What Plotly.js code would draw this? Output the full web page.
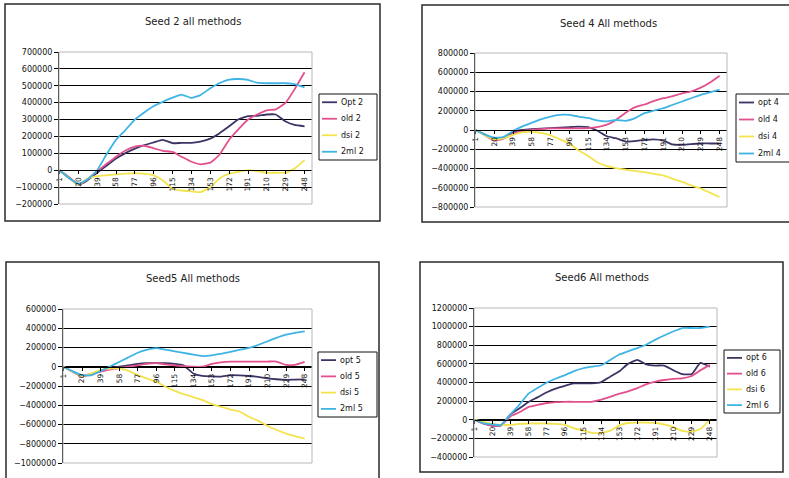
<!DOCTYPE html>
<html>
<head>
<meta charset="utf-8">
<script src="https://cdn.plot.ly/plotly-3.0.1.min.js"></script>
<style>
  html, body { margin: 0; padding: 0; background: #ffffff; }
  #chart { width: 789px; height: 478px; }
</style>
</head>
<body>
<div id="chart"></div>
<script>
// Step index (x) at which each series value is sampled
const steps = [1, 10, 20, 29, 39, 48, 58, 67, 77, 86, 96, 105, 115, 124, 134, 143, 153, 162, 172, 181, 191, 200, 210, 219, 229, 238, 248];

// Category labels shown on the x axis
const tickSteps = [1, 20, 39, 58, 77, 96, 115, 134, 153, 172, 191, 210, 229, 248];
const tickLabels = ['1', '20', '39', '58', '77', '96', '115', '134', '153', '172', '191', '210', '229', '248'];

// Chart titles and series names
const titles = ['Seed 2 all methods', 'Seed 4 All methods', 'Seed5 All methods', 'Seed6 All methods'];
const names2 = ['Opt 2', 'old 2', 'dsi 2', '2ml 2'];
const names4 = ['opt 4', 'old 4', 'dsi 4', '2ml 4'];
const names5 = ['opt 5', 'old 5', 'dsi 5', '2ml 5'];
const names6 = ['opt 6', 'old 6', 'dsi 6', '2ml 6'];

// Seed 2
const seed2Opt = [0, -40000, -85000, -60000, -15000, 25000, 70000, 100000, 128000, 148000, 165000, 180000, 160000, 162000, 162000, 170000, 187000, 218000, 260000, 300000, 320000, 322000, 330000, 330000, 288000, 268000, 260000];
const seed2Old = [0, -40000, -85000, -55000, -5000, 35000, 80000, 115000, 140000, 145000, 130000, 115000, 108000, 80000, 50000, 35000, 45000, 90000, 180000, 240000, 300000, 330000, 355000, 360000, 400000, 480000, 580000];
const seed2Dsi = [0, -45000, -85000, -50000, -35000, -30000, -25000, -20000, -18000, -20000, -30000, -60000, -110000, -120000, -125000, -130000, -100000, -50000, -20000, -10000, 0, -5000, -15000, -15000, -15000, 10000, 60000];
const seed2Ml = [0, -45000, -80000, -55000, 0, 90000, 180000, 235000, 300000, 340000, 380000, 405000, 430000, 448000, 428000, 445000, 485000, 515000, 537000, 540000, 535000, 518000, 515000, 515000, 515000, 510000, 490000];

// Seed 4
const seed4Opt = [0, -45000, -95000, -80000, -20000, 0, 10000, 15000, 20000, 25000, 30000, 35000, 30000, -5000, -65000, -85000, -120000, -115000, -104000, -97000, -110000, -150000, -155000, -146000, -140000, -140000, -140000];
const seed4Old = [0, -50000, -110000, -90000, -40000, -10000, 0, 10000, 17000, 17000, 17000, 17000, 20000, 30000, 55000, 105000, 180000, 235000, 265000, 300000, 330000, 350000, 380000, 400000, 440000, 490000, 563000];
const seed4Dsi = [0, -50000, -100000, -85000, -50000, -25000, -20000, -30000, -55000, -95000, -139000, -210000, -270000, -335000, -375000, -395000, -412000, -425000, -438000, -455000, -472000, -505000, -539000, -575000, -609000, -650000, -696000];
const seed4Ml = [0, -45000, -80000, -75000, -10000, 35000, 75000, 110000, 140000, 157000, 157000, 140000, 125000, 100000, 90000, 104000, 95000, 120000, 175000, 200000, 226000, 260000, 296000, 330000, 365000, 390000, 420000];

// Seed 5
const seed5Opt = [0, -50000, -95000, -75000, -45000, -20000, 0, 15000, 30000, 37000, 37000, 37000, 30000, 15000, -70000, -95000, -100000, -103000, -88000, -90000, -96000, -105000, -120000, -130000, -137000, -133000, -131000];
const seed5Old = [0, -50000, -100000, -80000, -50000, -30000, -15000, 0, 15000, 30000, 37000, 25000, 15000, 5000, 0, 0, 30000, 45000, 54000, 54000, 54000, 54000, 54000, 54000, 19000, 19000, 50000];
const seed5Dsi = [0, -50000, -96000, -70000, -35000, -20000, -16000, -40000, -85000, -120000, -155000, -205000, -250000, -285000, -315000, -345000, -388000, -415000, -445000, -465000, -520000, -560000, -615000, -655000, -695000, -720000, -746000];
const seed5Ml = [0, -45000, -87000, -90000, -45000, 0, 50000, 95000, 145000, 175000, 193000, 178000, 160000, 145000, 125000, 110000, 118000, 135000, 155000, 175000, 195000, 225000, 265000, 300000, 333000, 352000, 367000];

// Seed 6
const seed6Opt = [0, -40000, -65000, -60000, 60000, 120000, 193000, 240000, 295000, 335000, 365000, 390000, 391000, 391000, 405000, 460000, 520000, 600000, 643000, 595000, 582000, 582000, 530000, 490000, 490000, 610000, 570000];
const seed6Old = [0, -40000, -65000, -60000, 40000, 80000, 139000, 160000, 180000, 190000, 193000, 193000, 193000, 193000, 215000, 245000, 280000, 305000, 340000, 380000, 410000, 427000, 440000, 445000, 470000, 530000, 589000];
const seed6Dsi = [0, -20000, -45000, -55000, -55000, -45000, -40000, -40000, -40000, -45000, -55000, -90000, -115000, -140000, -140000, -120000, -60000, -35000, -30000, -30000, -35000, -50000, -80000, -120000, -130000, -100000, 0];
const seed6Ml = [0, -35000, -50000, -55000, 60000, 160000, 283000, 340000, 400000, 440000, 480000, 520000, 553000, 570000, 585000, 640000, 700000, 735000, 770000, 805000, 860000, 905000, 950000, 985000, 985000, 985000, 1000000];

// Y axis ranges and tick step for each chart
const yRanges = [[-200000, 700000], [-800000, 800000], [-1000000, 600000], [-400000, 1200000]];
const yDticks = [100000, 200000, 200000, 200000];

// ---------- drawing ----------
const W = 789, H = 478;
const px = v => v / W;
const py = v => 1 - v / H;

const seriesColors = ['#3d3464', '#e2508e', '#f3e34e', '#3fb4e4'];
const font = 'DejaVu Sans, Verdana, sans-serif';

// pixel boxes: plot area [left, top, right, bottom], outer frame, key box, title centre
const panels = [
  { plot: [59, 52, 312, 204], frame: [5, 4, 380, 221], key: [319, 94, 377, 160], title: [193, 22],
    names: names2, data: [seed2Opt, seed2Old, seed2Dsi, seed2Ml] },
  { plot: [475, 53, 727, 207], frame: [422, 5, 800, 222], key: [736, 94, 800, 162], title: [608, 23],
    names: names4, data: [seed4Opt, seed4Old, seed4Dsi, seed4Ml] },
  { plot: [63, 309, 312, 463], frame: [6, 262, 379, 490], key: [318, 352, 377, 417], title: [193, 278],
    names: names5, data: [seed5Opt, seed5Old, seed5Dsi, seed5Ml] },
  { plot: [474, 308, 717, 457], frame: [420, 262, 783, 472], key: [724, 350, 780, 413], title: [602, 277],
    names: names6, data: [seed6Opt, seed6Old, seed6Dsi, seed6Ml] }
];

const traces = [];
const layout = {
  width: W, height: H,
  margin: { l: 0, r: 0, t: 0, b: 0 },
  paper_bgcolor: '#ffffff',
  plot_bgcolor: '#ffffff',
  font: { family: font, size: 8, color: '#222222' },
  showlegend: false,
  shapes: [],
  annotations: []
};

panels.forEach((p, k) => {
  const n = k + 1;
  const xName = 'x' + (n === 1 ? '' : n);
  const yName = 'y' + (n === 1 ? '' : n);
  const [l, t, r, b] = p.plot;
  const yDom = [py(b), py(t)];
  const yr = yRanges[k];
  const zeroPos = yDom[0] + (0 - yr[0]) / (yr[1] - yr[0]) * (yDom[1] - yDom[0]);

  p.data.forEach((vals, s) => {
    traces.push({
      type: 'scatter', mode: 'lines',
      x: steps, y: vals,
      name: p.names[s],
      xaxis: xName, yaxis: yName,
      line: { color: seriesColors[s], width: 1.8, shape: 'spline', smoothing: 0.4 },
      hoverinfo: 'x+y+name'
    });
  });

  layout['xaxis' + (n === 1 ? '' : n)] = {
    domain: [px(l), px(r)],
    range: [0.5, 255.5],
    anchor: 'free',
    position: zeroPos,
    tickmode: 'array', tickvals: tickSteps, ticktext: tickLabels,
    tickangle: -90,
    tickfont: { family: font, size: 7.5, color: '#111111' },
    ticks: 'outside', ticklen: 3, tickcolor: '#000000',
    showline: true, linecolor: '#000000', linewidth: 1,
    showgrid: false, zeroline: false, fixedrange: true
  };
  layout['yaxis' + (n === 1 ? '' : n)] = {
    domain: yDom,
    range: yr,
    anchor: xName,
    dtick: yDticks[k], tick0: 0,
    tickformat: 'd',
    tickfont: { family: font, size: 8, color: '#111111' },
    ticks: 'outside', ticklen: 4, tickcolor: '#000000',
    showline: true, linecolor: '#000000', linewidth: 1,
    showgrid: true, gridcolor: '#000000', gridwidth: 1,
    zeroline: true, zerolinecolor: '#000000', zerolinewidth: 1,
    fixedrange: true
  };

  // light grey plot-area border
  layout.shapes.push({
    type: 'rect', xref: 'paper', yref: 'paper', layer: 'above',
    x0: px(l), x1: px(r), y0: yDom[0], y1: yDom[1],
    line: { color: '#b8b8b8', width: 1 }
  });
  // outer chart frame
  const [fl, ft, fr, fb] = p.frame;
  layout.shapes.push({
    type: 'rect', xref: 'paper', yref: 'paper', layer: 'below',
    x0: px(fl), x1: px(fr), y0: py(fb), y1: py(ft),
    line: { color: '#2a2a2a', width: 1.5 }
  });
  // chart title
  layout.annotations.push({
    xref: 'paper', yref: 'paper',
    x: px(p.title[0]), y: py(p.title[1]),
    xanchor: 'center', yanchor: 'middle',
    text: titles[k], showarrow: false,
    font: { family: font, size: 10, color: '#222222' }
  });

  // series key: framed box with a short line sample and name per series
  const [kl, kt, kr, kb] = p.key;
  layout.shapes.push({
    type: 'rect', xref: 'paper', yref: 'paper', layer: 'above',
    x0: px(kl), x1: px(kr), y0: py(kb), y1: py(kt),
    fillcolor: '#ffffff',
    line: { color: '#111111', width: 1 }
  });
  const rowGap = (kb - kt) / p.names.length;
  p.names.forEach((nm, s) => {
    const ry = kt + rowGap * (s + 0.5);
    layout.shapes.push({
      type: 'line', xref: 'paper', yref: 'paper', layer: 'above',
      x0: px(kl + 3), x1: px(kl + 18), y0: py(ry), y1: py(ry),
      line: { color: seriesColors[s], width: 1.8 }
    });
    layout.annotations.push({
      xref: 'paper', yref: 'paper',
      x: px(kl + 20), y: py(ry),
      xanchor: 'left', yanchor: 'middle',
      text: nm, showarrow: false,
      font: { family: font, size: 8, color: '#111111' }
    });
  });
});

Plotly.newPlot('chart', traces, layout, { displayModeBar: false, staticPlot: true });
</script>
</body>
</html>
